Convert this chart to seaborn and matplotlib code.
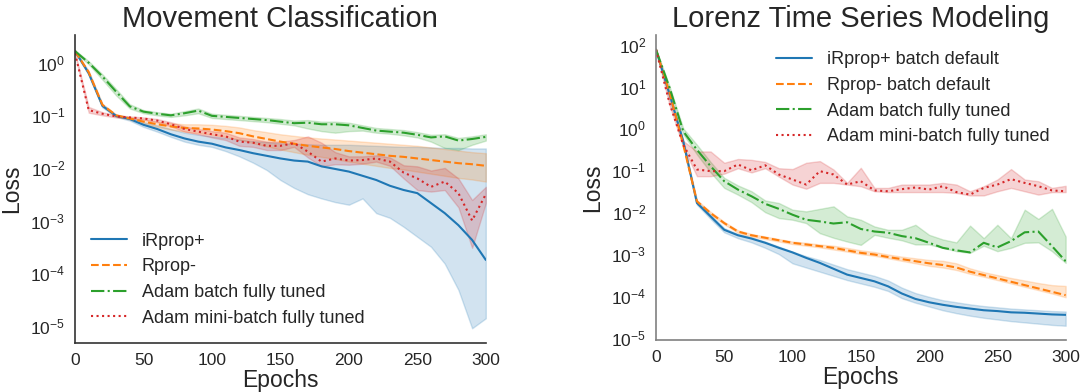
import matplotlib
matplotlib.use("Agg")
import matplotlib.pyplot as plt
from matplotlib.ticker import LogLocator
import seaborn as sns
import pandas as pd
import numpy as np

# epochs sampled every 10 steps
epochs = list(range(0, 301, 10))

# values as log10(loss): low edge of band, line, high edge of band
# ---- Movement Classification ----
mc_names = ["iRprop+", "Rprop-", "Adam batch fully tuned", "Adam mini-batch fully tuned"]

mc_irprop = [0.22, -0.20, -0.82, -1.01, -1.07, -1.18, -1.26, -1.36, -1.44, -1.50, -1.54,
             -1.61, -1.66, -1.72, -1.77, -1.82, -1.86, -1.88, -1.97, -2.02, -2.07,
             -2.15, -2.23, -2.34, -2.42, -2.48, -2.67, -2.86, -3.09, -3.37, -3.75]
mc_irprop_hi = [0.24, -0.17, -0.79, -0.99, -1.04, -1.13, -1.19, -1.26, -1.33, -1.37, -1.40,
                -1.43, -1.46, -1.49, -1.51, -1.53, -1.54, -1.55, -1.56, -1.56, -1.56,
                -1.57, -1.58, -1.59, -1.60, -1.60, -1.61, -1.62, -1.62, -1.63, -1.63]
mc_irprop_lo = [0.20, -0.23, -0.85, -1.03, -1.10, -1.22, -1.31, -1.41, -1.50, -1.56, -1.60,
                -1.68, -1.78, -1.90, -2.04, -2.23, -2.38, -2.50, -2.58, -2.65, -2.70,
                -2.58, -2.86, -2.95, -3.12, -3.31, -3.50, -3.82, -4.32, -5.05, -4.86]

mc_rprop = [0.22, -0.18, -0.80, -1.00, -1.06, -1.12, -1.17, -1.21, -1.24, -1.25, -1.27,
            -1.30, -1.34, -1.40, -1.45, -1.50, -1.54, -1.58, -1.61, -1.64, -1.68,
            -1.71, -1.74, -1.77, -1.79, -1.82, -1.85, -1.88, -1.91, -1.93, -1.96]
mc_rprop_hi = [0.24, -0.16, -0.78, -0.98, -1.04, -1.08, -1.12, -1.15, -1.17, -1.17, -1.18,
               -1.20, -1.23, -1.28, -1.32, -1.36, -1.39, -1.42, -1.44, -1.46, -1.48,
               -1.50, -1.52, -1.54, -1.56, -1.58, -1.61, -1.64, -1.67, -1.70, -1.72]
mc_rprop_lo = [0.20, -0.20, -0.82, -1.02, -1.08, -1.16, -1.22, -1.27, -1.31, -1.34, -1.37,
               -1.41, -1.46, -1.53, -1.59, -1.65, -1.70, -1.75, -1.79, -1.83, -1.88,
               -1.92, -1.96, -2.00, -2.03, -2.07, -2.11, -2.15, -2.19, -2.22, -2.26]

mc_adam = [0.22, 0.00, -0.26, -0.55, -0.83, -0.93, -0.97, -1.00, -0.96, -0.91, -1.01,
           -1.03, -1.05, -1.07, -1.09, -1.12, -1.15, -1.14, -1.17, -1.17, -1.19,
           -1.24, -1.29, -1.31, -1.33, -1.37, -1.42, -1.40, -1.48, -1.45, -1.41]
mc_adam_hi = [0.24, 0.03, -0.22, -0.50, -0.79, -0.90, -0.94, -0.97, -0.92, -0.87, -0.97,
              -0.99, -1.01, -1.03, -1.05, -1.07, -1.10, -1.09, -1.12, -1.12, -1.14,
              -1.19, -1.24, -1.26, -1.28, -1.32, -1.37, -1.36, -1.43, -1.40, -1.36]
mc_adam_lo = [0.20, -0.03, -0.32, -0.62, -0.87, -0.96, -1.00, -1.03, -1.00, -0.96, -1.05,
              -1.07, -1.09, -1.11, -1.13, -1.16, -1.19, -1.25, -1.30, -1.33, -1.30,
              -1.29, -1.33, -1.35, -1.38, -1.42, -1.50, -1.62, -1.66, -1.56, -1.48]

mc_mini = [0.18, -0.90, -0.97, -1.02, -1.04, -1.06, -1.10, -1.17, -1.26, -1.31, -1.36,
           -1.40, -1.50, -1.52, -1.58, -1.58, -1.53, -1.69, -1.88, -1.82, -1.86,
           -1.85, -1.82, -1.88, -2.09, -2.20, -2.36, -2.26, -2.48, -3.00, -2.50]
mc_mini_hi = [0.20, -0.84, -0.94, -1.00, -1.02, -1.04, -1.07, -1.13, -1.21, -1.26, -1.30,
              -1.33, -1.42, -1.45, -1.50, -1.50, -1.47, -1.40, -1.52, -1.70, -1.78,
              -1.78, -1.76, -1.80, -1.95, -1.97, -2.05, -2.00, -2.20, -2.61, -2.36]
mc_mini_lo = [0.16, -0.95, -1.00, -1.04, -1.06, -1.08, -1.13, -1.21, -1.31, -1.36, -1.42,
              -1.47, -1.58, -1.60, -1.66, -1.66, -1.60, -1.80, -1.97, -1.93, -1.94,
              -1.92, -1.88, -1.96, -2.20, -2.42, -2.45, -2.42, -2.75, -3.52, -2.67]

# ---- Lorenz Time Series Modeling ----
lz_names = ["iRprop+ batch default", "Rprop- batch default",
            "Adam batch fully tuned", "Adam mini-batch fully tuned"]

lz_irprop = [1.88, 0.81, -0.31, -1.78, -2.10, -2.42, -2.55, -2.63, -2.73, -2.85, -2.96,
             -3.09, -3.21, -3.35, -3.49, -3.57, -3.65, -3.77, -3.94, -4.07, -4.15,
             -4.21, -4.26, -4.30, -4.34, -4.36, -4.39, -4.40, -4.42, -4.44, -4.45]
lz_irprop_hi = [1.90, 0.84, -0.27, -1.74, -2.06, -2.38, -2.52, -2.60, -2.70, -2.82, -2.94,
                -3.05, -3.14, -3.25, -3.36, -3.44, -3.52, -3.63, -3.80, -3.93, -4.02,
                -4.10, -4.15, -4.20, -4.24, -4.27, -4.30, -4.32, -4.34, -4.36, -4.37]
lz_irprop_lo = [1.86, 0.78, -0.35, -1.82, -2.16, -2.48, -2.62, -2.72, -2.85, -3.00, -3.22,
                -3.32, -3.42, -3.52, -3.62, -3.70, -3.78, -3.88, -4.05, -4.16, -4.25,
                -4.34, -4.41, -4.47, -4.52, -4.56, -4.60, -4.63, -4.66, -4.69, -4.71]

lz_rprop = [1.88, 0.85, -0.39, -1.74, -2.02, -2.26, -2.46, -2.55, -2.61, -2.67, -2.73,
            -2.77, -2.81, -2.85, -2.91, -2.97, -3.01, -3.07, -3.12, -3.17, -3.22,
            -3.26, -3.32, -3.42, -3.50, -3.58, -3.66, -3.74, -3.82, -3.90, -3.98]
lz_rprop_hi = [1.90, 0.88, -0.36, -1.71, -1.99, -2.23, -2.43, -2.52, -2.58, -2.64, -2.70,
               -2.73, -2.77, -2.80, -2.85, -2.91, -2.95, -3.01, -3.06, -3.10, -3.14,
               -3.16, -3.22, -3.34, -3.43, -3.50, -3.57, -3.63, -3.69, -3.74, -3.76]
lz_rprop_lo = [1.86, 0.82, -0.42, -1.77, -2.05, -2.29, -2.49, -2.58, -2.64, -2.70, -2.76,
               -2.80, -2.84, -2.89, -2.94, -3.00, -3.04, -3.10, -3.16, -3.22, -3.28,
               -3.32, -3.38, -3.47, -3.54, -3.62, -3.70, -3.78, -3.86, -3.94, -4.03]

lz_adam = [1.88, 0.97, -0.07, -0.51, -0.90, -1.26, -1.46, -1.62, -1.80, -1.92, -2.06,
           -2.18, -2.22, -2.27, -2.24, -2.40, -2.46, -2.49, -2.57, -2.62, -2.73,
           -2.85, -2.91, -2.96, -2.73, -2.84, -2.69, -2.48, -2.46, -2.81, -3.17]
lz_adam_hi = [1.90, 1.00, 0.00, -0.39, -0.80, -1.18, -1.36, -1.50, -1.72, -1.78, -1.94,
              -1.98, -1.92, -1.86, -2.10, -2.18, -2.34, -2.42, -2.42, -2.30, -2.54,
              -2.65, -2.72, -2.32, -2.62, -2.30, -2.62, -1.94, -2.16, -1.92, -2.58]
lz_adam_lo = [1.86, 0.94, -0.14, -0.62, -1.05, -1.42, -1.58, -1.76, -2.00, -2.14, -2.18,
              -2.26, -2.50, -2.61, -2.70, -2.78, -2.54, -2.61, -2.67, -2.77, -2.77,
              -2.85, -2.93, -2.97, -2.80, -2.93, -2.85, -2.73, -2.72, -2.93, -3.21]

lz_mini = [1.88, 0.60, -0.39, -0.98, -1.02, -1.02, -0.86, -1.00, -0.88, -1.10, -1.22,
           -1.34, -1.02, -1.10, -1.34, -1.26, -1.48, -1.50, -1.45, -1.41, -1.46,
           -1.38, -1.54, -1.58, -1.42, -1.34, -1.21, -1.30, -1.38, -1.48, -1.50]
lz_mini_hi = [1.90, 0.66, -0.30, -0.55, -0.55, -0.82, -0.73, -0.75, -0.80, -0.95, -0.97,
              -0.82, -0.78, -0.98, -1.30, -0.94, -1.42, -1.42, -1.34, -1.34, -1.34,
              -1.30, -1.34, -1.50, -1.38, -1.22, -0.97, -1.22, -1.26, -1.42, -1.37]
lz_mini_lo = [1.86, 0.55, -0.45, -1.14, -1.14, -1.08, -0.95, -1.05, -0.95, -1.15, -1.34,
              -1.44, -1.30, -1.30, -1.34, -1.38, -1.50, -1.52, -1.52, -1.52, -1.52,
              -1.52, -1.52, -1.60, -1.60, -1.50, -1.42, -1.50, -1.58, -1.52, -1.52]

colors = ["#1f77b4", "#ff7f0e", "#2ca02c", "#d62728"]
dash_styles = ["", (3.7, 1.6), (6.4, 1.6, 1, 1.6), (1, 1.65)]


def long_frame(names, series):
    # three "runs" per point (low, line, high) -> median gives the line, min/max the band
    rows = []
    for name, (lo, mid, hi) in zip(names, series):
        for e, a, b, c in zip(epochs, lo, mid, hi):
            for v in (a, b, c):
                rows.append((e, 10.0 ** v, name))
    return pd.DataFrame(rows, columns=["epoch", "loss", "optimizer"])


mc_df = long_frame(mc_names, [(mc_irprop_lo, mc_irprop, mc_irprop_hi),
                              (mc_rprop_lo, mc_rprop, mc_rprop_hi),
                              (mc_adam_lo, mc_adam, mc_adam_hi),
                              (mc_mini_lo, mc_mini, mc_mini_hi)])
lz_df = long_frame(lz_names, [(lz_irprop_lo, lz_irprop, lz_irprop_hi),
                              (lz_rprop_lo, lz_rprop, lz_rprop_hi),
                              (lz_adam_lo, lz_adam, lz_adam_hi),
                              (lz_mini_lo, lz_mini, lz_mini_hi)])

sns.set_style("white")
plt.rcParams["font.family"] = ["Liberation Sans", "DejaVu Sans"]

fig = plt.figure(figsize=(10.81, 3.92), dpi=100)
ax1 = fig.add_axes([0.0694, 0.125, 0.380, 0.786])
ax2 = fig.add_axes([0.6068, 0.1327, 0.379, 0.778])

panels = [
    (ax1, mc_df, mc_names, "Movement Classification", (10 ** -5.33, 10 ** 0.53), "lower left", "#333333"),
    (ax2, lz_df, lz_names, "Lorenz Time Series Modeling", (10 ** -5.05, 10 ** 2.23), "upper right", "#808080"),
]

for ax, df, names, title, ylim, loc, spine_col in panels:
    sns.lineplot(data=df, x="epoch", y="loss", hue="optimizer", style="optimizer",
                 hue_order=names, style_order=names, palette=colors, dashes=dash_styles,
                 estimator="median", errorbar=("pi", 100), linewidth=1.5, ax=ax)
    ax.set_yscale("log")
    ax.yaxis.set_major_locator(LogLocator(base=10, numticks=20))
    ax.set_xlim(0, 300)
    ax.set_ylim(*ylim)
    ax.set_xticks([0, 50, 100, 150, 200, 250, 300])
    ax.set_title(title, fontsize=21, color="#262626")
    ax.set_xlabel("Epochs", fontsize=16.5, color="#262626", labelpad=1)
    ax.set_ylabel("Loss", fontsize=16.5, color="#262626", labelpad=5)
    ax.tick_params(labelsize=12.5, colors="#262626")
    sns.despine(ax=ax)
    for s in ("left", "bottom"):
        ax.spines[s].set_color(spine_col)
        ax.spines[s].set_linewidth(1.2)
    sns.move_legend(ax, loc, title=None, frameon=False, fontsize=13, labelspacing=0.48)

fig.savefig("out.png", dpi=100)
